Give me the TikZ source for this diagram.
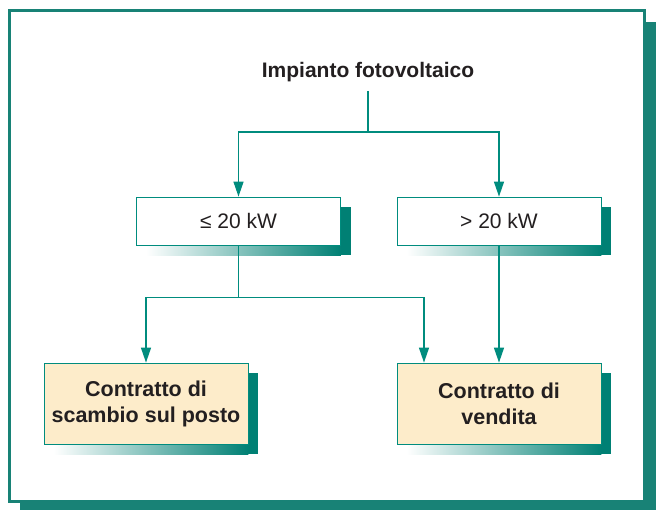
\documentclass[tikz,border=0pt]{standalone}
\usepackage{fontspec}
\setmainfont{Liberation Sans}
\usetikzlibrary{arrows.meta}
\definecolor{tealA}{RGB}{0,128,116}
\definecolor{tealL}{RGB}{0,140,126}
\definecolor{tealF}{RGB}{24,130,118}
\definecolor{peach}{RGB}{253,236,202}
\definecolor{ink}{RGB}{35,31,32}
\newcommand{\myshadow}[1]{%
  \fill[tealA] ([yshift=-10pt]#1.north east) rectangle ([xshift=10pt,yshift=-10pt]#1.south east);
  \shade[left color=white,right color=tealA] ([xshift=10pt]#1.south west) rectangle ([yshift=-10pt]#1.south east);
}
\begin{document}
\begin{tikzpicture}[x=1pt,y=-1pt,
  every node/.style={text=ink},
  boxA/.style={draw=tealL,line width=0.8pt,fill=white,minimum width=204pt,minimum height=48pt,inner sep=0pt,font=\fontsize{21}{24}\selectfont},
  boxB/.style={draw=tealL,line width=0.8pt,fill=peach,minimum width=204pt,minimum height=81pt,inner sep=0pt,align=center,font=\bfseries\fontsize{21.5}{26}\selectfont},
  conn/.style={draw=tealL,line width=1.3pt},
  arr/.style={conn,-{Triangle[length=15pt,width=10pt]}}]
\useasboundingbox (0,0) rectangle (656,510);
% outer frame
\fill[tealF] (20,22) rectangle (656,510);
\draw[tealF,line width=3pt,fill=white] (9.5,10.5) rectangle (644,501);
% title
\node[inner sep=0pt,font=\bfseries\fontsize{21}{24}\selectfont] (title) at (368,72) {Impianto fotovoltaico};
% boxes
\node[boxA,draw=none,fill=none] (le) at (238.5,221) {};
\node[boxA,draw=none,fill=none] (gt) at (499,221) {};
\node[boxB,draw=none,fill=none] (sc) at (146,403.5) {};
\node[boxB,draw=none,fill=none] (ve) at (499,403.5) {};
\myshadow{le}
\myshadow{gt}
\myshadow{sc}
\myshadow{ve}
\node[boxA] at (le) {≤ 20 kW};
\node[boxA] at (gt) {> 20 kW};
\node[boxB] at (sc) {Contratto di\\scambio sul posto};
\node[boxB] at (ve) {Contratto di\\vendita};
% connectors
\draw[conn] ([yshift=-9pt]title.south) -- ++(0,41) coordinate (j1);
\draw[arr] (j1) -| (le.north);
\draw[arr] (j1) -| (gt.north);
\draw[conn] (le.south) -- ++(0,52) coordinate (j2);
\draw[arr] (j2) -| (sc.north);
\draw[arr] (j2) -| ([xshift=-75pt]ve.north);
\draw[arr] (gt.south) -- (ve.north);
\end{tikzpicture}
\end{document}
